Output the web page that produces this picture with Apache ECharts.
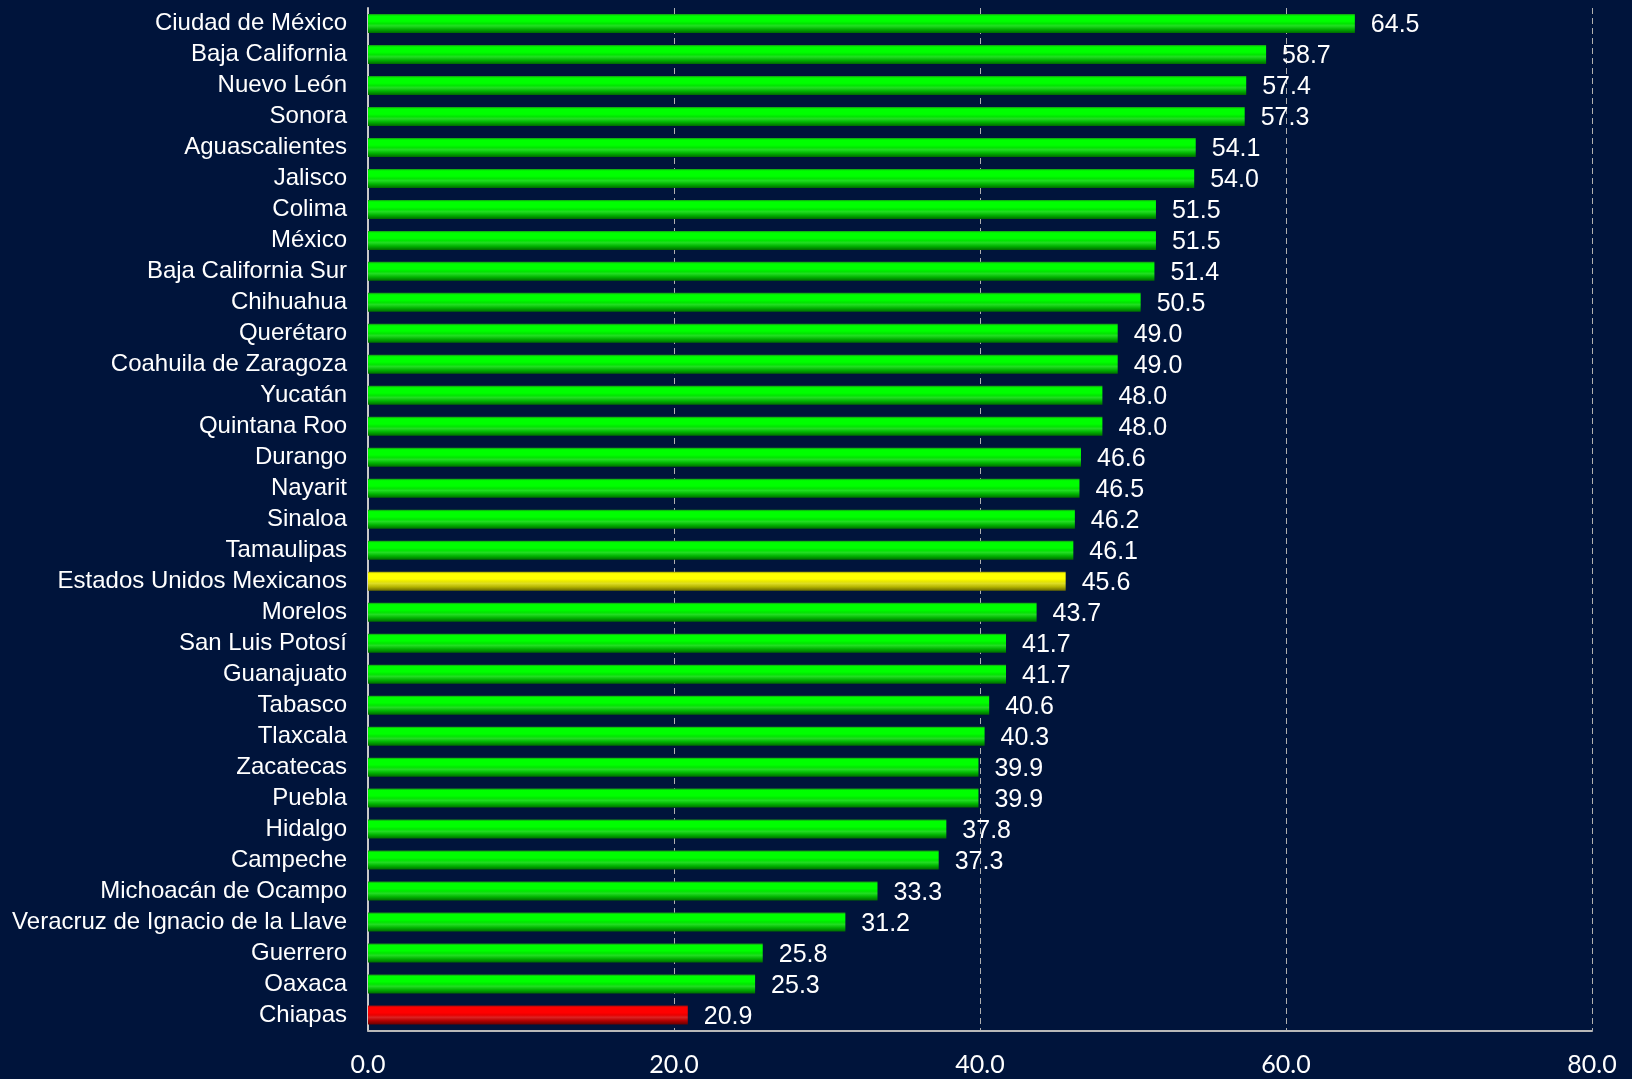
<!DOCTYPE html>
<html>
<head>
<meta charset="utf-8">
<script src="https://cdn.jsdelivr.net/npm/echarts@6/dist/echarts.min.js"></script>
<style>
html,body{margin:0;padding:0;background:#00143b;}
#c{width:1632px;height:1079px;}
</style>
</head>
<body>
<div id="c"></div>
<script>
const categories = ["Ciudad de México","Baja California","Nuevo León","Sonora","Aguascalientes","Jalisco","Colima","México","Baja California Sur","Chihuahua","Querétaro","Coahuila de Zaragoza","Yucatán","Quintana Roo","Durango","Nayarit","Sinaloa","Tamaulipas","Estados Unidos Mexicanos","Morelos","San Luis Potosí","Guanajuato","Tabasco","Tlaxcala","Zacatecas","Puebla","Hidalgo","Campeche","Michoacán de Ocampo","Veracruz de Ignacio de la Llave","Guerrero","Oaxaca","Chiapas"];
const values = [64.5,58.7,57.4,57.3,54.1,54.0,51.5,51.5,51.4,50.5,49.0,49.0,48.0,48.0,46.6,46.5,46.2,46.1,45.6,43.7,41.7,41.7,40.6,40.3,39.9,39.9,37.8,37.3,33.3,31.2,25.8,25.3,20.9];
const xTicks = [0,20,40,60,80];

function grad(c) {
  return new echarts.graphic.LinearGradient(0,0,0,1,[
    {offset:0,color:c[0]},{offset:0.1,color:c[1]},{offset:0.38,color:c[1]},
    {offset:0.5,color:c[2]},{offset:0.62,color:c[3]},{offset:0.8,color:c[4]},{offset:1,color:c[5]}
  ]);
}
const green = grad(['#1a8f1a','#00ff00','#00e600','#22dd22','#00b300','#006a00']);
const yellow = grad(['#9a9a10','#ffff00','#e8e800','#dddd22','#b3b300','#6a6a00']);
const red = grad(['#9a1010','#ff0000','#e80000','#dd2222','#b30000','#6a0000']);

const data = values.map((v,i)=>{
  const name = categories[i];
  let col = green;
  if (name === 'Estados Unidos Mexicanos') col = yellow;
  if (name === 'Chiapas') col = red;
  return {value:v, itemStyle:{color:col}};
});

const chart = echarts.init(document.getElementById('c'));
chart.setOption({
  backgroundColor:'#00143b',
  animation:false,
  grid:{left:368,right:40,top:8,bottom:48.5,containLabel:false},
  xAxis:{
    type:'value',min:xTicks[0],max:xTicks[xTicks.length-1],interval:20,
    axisLine:{show:true,lineStyle:{color:'#b8b8b8',width:2}},
    axisTick:{show:false},
    splitLine:{show:true,lineStyle:{color:'#b0b0b0',type:[6,4],width:1}},
    axisLabel:{color:'#ffffff',fontFamily:'Lato',fontSize:25,margin:22,formatter:v=>v.toFixed(1)}
  },
  yAxis:{
    type:'category',inverse:true,data:categories,
    axisLine:{show:true,lineStyle:{color:'#c8c8c8',width:2}},
    axisTick:{show:false},
    axisLabel:{interval:0,color:'#ffffff',fontFamily:'Liberation Sans, Arial',fontSize:24,margin:21,padding:[2,0,0,0]}
  },
  series:[{
    type:'bar',data:data,barWidth:19,
    label:{show:true,position:'right',distance:16,offset:[0,2],color:'#ffffff',fontFamily:'Liberation Sans, Arial',fontSize:25,formatter:p=>p.value.toFixed(1)}
  }]
});
</script>
</body>
</html>
